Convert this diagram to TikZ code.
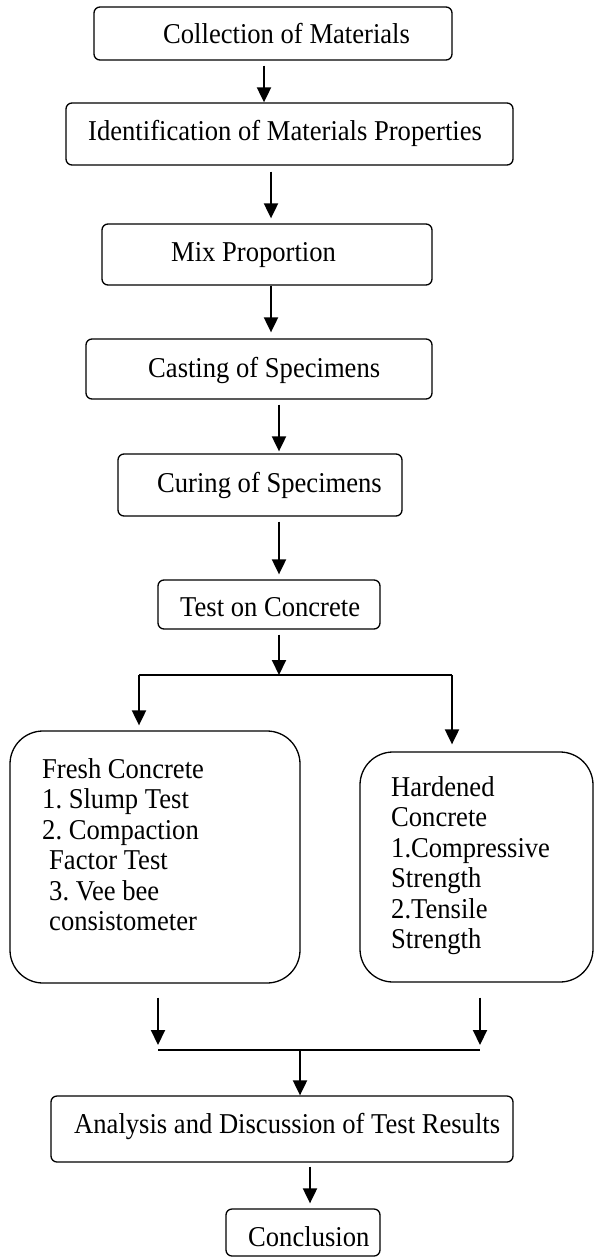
\documentclass[tikz,border=0pt]{standalone}
\usepackage{fontspec}
\usepackage{graphicx}
\setmainfont{Liberation Serif}
\usetikzlibrary{arrows.meta}
\frenchspacing
\newcommand\bodyfont{\fontsize{26.6}{28.24}\selectfont\frenchspacing}
\newcommand\tx[1]{\scalebox{1}[1.08]{#1}}
\begin{document}
\begin{tikzpicture}[x=1pt,y=-1pt,
  box/.style={draw, line width=1.3pt, rounded corners=6pt, inner sep=0pt},
  bigbox/.style={draw, line width=1.3pt, rounded corners=33pt, inner sep=0pt},
  txt/.style={font=\bodyfont, inner sep=0pt, anchor=base west},
  arr/.style={line width=2pt, -{Triangle[length=15pt,width=14pt]}},
  ln/.style={line width=2pt}]
\useasboundingbox (0,0) rectangle (594,1258);
% boxes
\node[box, minimum width=358pt, minimum height=53pt] (b1) at (273,33.5) {};
\node[box, minimum width=447pt, minimum height=62pt] (b2) at (289.5,134) {};
\node[box, minimum width=330pt, minimum height=61pt] (b3) at (267,254.5) {};
\node[box, minimum width=346pt, minimum height=60pt] (b4) at (259,369) {};
\node[box, minimum width=284pt, minimum height=62pt] (b5) at (260,485) {};
\node[box, minimum width=222pt, minimum height=49pt] (b6) at (269,604.5) {};
\node[bigbox, minimum width=290pt, minimum height=252pt] (fresh) at (155,857) {};
\node[bigbox, minimum width=233pt, minimum height=230pt] (hard) at (476.5,867) {};
\node[box, minimum width=462pt, minimum height=66pt] (ana) at (282,1129) {};
\node[box, minimum width=154pt, minimum height=47pt] (conc) at (303,1232.5) {};
% texts
\node[txt] (t1) at (163,43) {\tx{Collection of Materials}};
\node[txt] (t2) at (88,140) {\tx{Identification of Materials Properties}};
\node[txt] (t3) at (171,261) {\tx{Mix Proportion}};
\node[txt] (t4) at (148,377) {\tx{Casting of Specimens}};
\node[txt] (t5) at (157,492) {\tx{Curing of Specimens}};
\node[txt] (t6) at (180,616) {\tx{Test on Concrete}};
\node[txt] (tf) at (42,778) {\tx{\begin{tabular}[t]{@{}l@{}}Fresh Concrete\\1. Slump Test\\2. Compaction\\\hspace*{7pt}Factor Test\\\hspace*{7pt}3. Vee bee\\\hspace*{7pt}consistometer\end{tabular}}};
\node[txt] (th) at (391,796) {\tx{\begin{tabular}[t]{@{}l@{}}Hardened\\Concrete\\1.Compressive\\Strength\\2.Tensile\\Strength\end{tabular}}};
\node[txt] (ta) at (74,1133) {\tx{Analysis and Discussion of Test Results}};
\node[txt] (tc) at (248,1246) {\tx{Conclusion}};
% connector points
\coordinate (s) at (279,675);
\coordinate (sL) at (139,675);
\coordinate (sR) at (452,675);
\coordinate (jL) at (158,1050);
\coordinate (jR) at (480,1050);
\coordinate (jC) at (300,1050);
% arrows
\draw[arr] ([xshift=-9pt,yshift=-5pt]b1.south) -- ([xshift=-25.5pt]b2.north);
\draw[arr] ([xshift=-18.5pt,yshift=-6pt]b2.south) -- ([xshift=4pt,yshift=5pt]b3.north);
\draw[arr] ([xshift=4pt]b3.south) -- ([xshift=12pt,yshift=6pt]b4.north);
\draw[arr] ([xshift=20pt,yshift=-5pt]b4.south) -- ([xshift=19pt,yshift=2pt]b5.north);
\draw[arr] ([xshift=19pt,yshift=-5pt]b5.south) -- ([xshift=10pt,yshift=5pt]b6.north);
\draw[arr] ([xshift=10pt,yshift=-5pt]b6.south) -- (s);
\draw[ln] (sL) -- (sR);
\draw[arr] (sL) -- ([xshift=-16pt,yshift=5pt]fresh.north);
\draw[arr] (sR) -- ([xshift=-24.5pt,yshift=7pt]hard.north);
\draw[arr] ([xshift=3pt,yshift=-14pt]fresh.south) -- ([yshift=5pt]jL);
\draw[arr] ([xshift=3.5pt,yshift=-15pt]hard.south) -- ([yshift=5pt]jR);
\draw[ln] (jL) -- (jR);
\draw[arr] (jC) -- ([xshift=18pt]ana.north);
\draw[arr] ([xshift=28pt,yshift=-4pt]ana.south) -- ([xshift=7pt,yshift=5pt]conc.north);
\end{tikzpicture}
\end{document}
